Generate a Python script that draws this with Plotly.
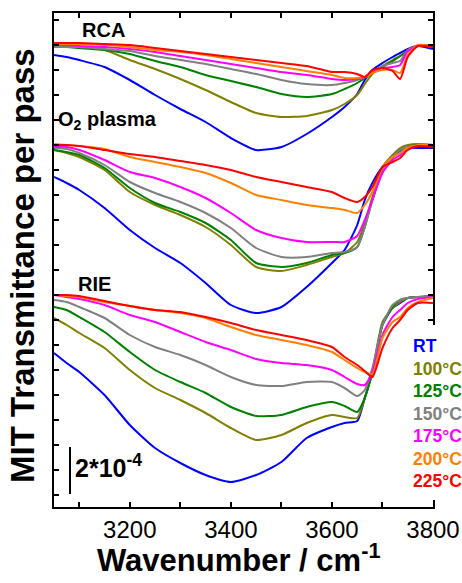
import plotly.graph_objects as go

# Wavenumber grid (cm^-1)
wavenumber = [3050, 3075, 3100, 3150, 3200, 3250, 3300, 3350, 3400, 3450, 3500, 3550,
              3600, 3625, 3650, 3665, 3680, 3700, 3720, 3735, 3750, 3770, 3800]

temps = ["RT", "100°C", "125°C", "150°C", "175°C", "200°C", "225°C"]
colors = ["#0000FF", "#808000", "#008000", "#808080", "#FF00FF", "#FF8000", "#FF0000"]

# Offset spectra, y in units of 1e-4 (transmittance per pass)
rca_rt   = [18.08,18.00,17.88,17.60,17.08,16.48,15.92,15.40,14.76,14.28,14.40,14.92,15.60,16.00,16.52,17.08,17.48,17.76,18.00,18.16,18.32,18.44,18.32]
rca_100  = [18.40,18.40,18.40,18.28,17.88,17.52,17.12,16.68,16.20,15.76,15.60,15.64,15.88,16.12,16.48,16.92,17.32,17.64,17.88,18.04,18.24,18.44,18.40]
rca_125  = [18.40,18.40,18.36,18.28,18.12,17.84,17.60,17.28,17.04,16.80,16.52,16.40,16.52,16.72,16.96,17.16,17.40,17.60,17.84,18.04,18.24,18.44,18.48]
rca_150  = [18.40,18.40,18.40,18.32,18.24,18.04,17.88,17.72,17.52,17.32,17.08,16.92,16.88,16.96,17.08,17.20,17.40,17.64,17.76,17.84,18.28,18.44,18.48]
rca_175  = [18.48,18.48,18.44,18.40,18.32,18.20,18.04,17.88,17.72,17.56,17.40,17.28,17.12,17.08,17.12,17.20,17.40,17.56,17.60,17.68,18.24,18.44,18.48]
rca_200  = [18.52,18.52,18.52,18.48,18.40,18.28,18.20,18.08,17.92,17.76,17.60,17.44,17.28,17.16,17.16,17.20,17.36,17.48,17.48,17.36,18.08,18.48,18.44]
rca_225  = [18.56,18.56,18.56,18.52,18.48,18.36,18.24,18.12,18.00,17.88,17.76,17.64,17.40,17.40,17.32,17.20,17.48,17.56,17.44,17.12,18.00,18.44,18.40]

o2_rt    = [13.20,12.96,12.68,11.96,11.08,10.36,9.76,8.96,8.08,7.76,8.00,8.80,9.76,10.28,11.28,12.28,12.96,13.60,14.00,14.24,14.36,14.36,14.36]
o2_100   = [14.28,14.16,14.00,13.48,12.60,12.08,11.68,11.20,10.48,9.60,9.44,9.68,10.00,10.16,10.60,11.36,12.40,13.60,14.08,14.36,14.48,14.52,14.48]
o2_125   = [14.28,14.20,14.08,13.56,12.76,12.16,11.80,11.36,10.68,9.76,9.60,9.76,10.08,10.16,10.40,11.20,12.28,13.48,14.00,14.28,14.40,14.48,14.48]
o2_150   = [14.36,14.32,14.16,13.68,13.00,12.56,12.20,11.76,11.16,10.36,10.00,10.00,10.16,10.20,10.40,11.20,12.28,13.48,14.00,14.28,14.40,14.44,14.44]
o2_175   = [14.40,14.40,14.28,13.88,13.40,13.16,12.80,12.36,11.76,11.08,10.76,10.60,10.60,10.60,10.84,11.48,12.28,13.36,13.88,14.08,14.36,14.44,14.48]
o2_200   = [14.52,14.48,14.44,14.32,14.00,13.80,13.60,13.36,12.96,12.48,12.28,12.08,11.96,11.88,11.76,12.08,12.60,13.60,14.00,14.16,14.36,14.48,14.48]
o2_225   = [14.48,14.48,14.44,14.28,14.12,14.00,13.84,13.68,13.48,13.20,13.00,12.80,12.60,12.36,12.20,12.40,12.80,13.60,13.80,13.96,14.28,14.44,14.40]

rie_rt   = [6.16,5.76,5.40,4.48,3.28,2.36,1.76,1.28,1.00,1.28,1.80,2.76,3.20,3.36,3.44,4.36,5.40,7.28,7.96,8.16,8.36,8.40,8.40]
rie_100  = [7.56,7.28,6.96,6.36,5.48,4.76,4.28,3.76,3.16,2.68,2.88,3.36,3.68,3.60,3.56,4.36,5.40,7.40,7.96,8.20,8.36,8.40,8.44]
rie_125  = [8.00,7.88,7.60,7.00,6.20,5.48,5.00,4.56,4.00,3.64,3.68,4.00,4.20,4.04,3.80,4.36,5.40,7.28,8.00,8.28,8.36,8.40,8.44]
rie_150  = [8.28,8.20,8.00,7.56,6.88,6.40,6.08,5.68,5.20,4.88,4.84,5.00,5.00,4.76,4.44,4.68,5.56,7.28,8.08,8.28,8.36,8.40,8.44]
rie_175  = [8.48,8.40,8.32,8.08,7.68,7.40,7.00,6.60,6.28,5.92,5.76,5.68,5.48,5.20,4.92,4.88,5.40,6.88,7.60,7.88,8.16,8.32,8.40]
rie_200  = [8.48,8.44,8.40,8.20,8.04,7.88,7.76,7.56,7.20,6.88,6.68,6.48,6.20,5.88,5.56,5.40,5.32,6.76,7.40,7.60,7.96,8.20,8.36]
rie_225  = [8.48,8.48,8.44,8.24,8.04,7.88,7.80,7.60,7.36,7.08,6.88,6.68,6.40,6.00,5.68,5.44,5.20,6.36,7.16,7.48,7.88,8.16,8.16]

groups = {
    "RCA": [rca_rt, rca_100, rca_125, rca_150, rca_175, rca_200, rca_225],
    "O2 plasma": [o2_rt, o2_100, o2_125, o2_150, o2_175, o2_200, o2_225],
    "RIE": [rie_rt, rie_100, rie_125, rie_150, rie_175, rie_200, rie_225],
}

FONT = "Liberation Sans, Arial, sans-serif"

fig = go.Figure()
for gname, series in groups.items():
    for t, c, ys in zip(temps, colors, series):
        fig.add_trace(go.Scatter(x=wavenumber, y=ys, mode="lines", name=f"{gname} {t}",
                                 line=dict(color=c, width=2, shape="spline", smoothing=0.6),
                                 showlegend=False, hoverinfo="skip"))

# plot area in pixels: x 54..433, y 13..507
L, R, T, B = 54, 433, 13, 507
def px(xp):
    return (xp - L) / (R - L)
def py(yp):
    return (B - yp) / (B - T)

ann = []
ann.append(dict(text="<b>RCA</b>", x=px(103.5), y=py(30), xanchor="center", yanchor="middle",
                font=dict(size=20, color="black", family=FONT)))
ann.append(dict(text="<b>O<sub>2</sub> plasma</b>", x=px(56), y=py(120), xanchor="left", yanchor="middle",
                font=dict(size=20, color="black", family=FONT)))
ann.append(dict(text="<b>RIE</b>", x=px(76), y=py(283.5), xanchor="left", yanchor="middle",
                font=dict(size=20, color="black", family=FONT)))
legend_y = [345.5, 368.5, 391, 413.5, 436, 458.5, 480.5]
for t, c, yy in zip(temps, colors, legend_y):
    ann.append(dict(text=f"<b>{t}</b>", x=px(411), y=py(yy), xanchor="left", yanchor="middle",
                    font=dict(size=17.5, color=c, family=FONT)))
ann.append(dict(text="<b>2*10<sup>-4</sup></b>", x=px(73), y=py(466), xanchor="left", yanchor="middle",
                font=dict(size=25, color="black", family=FONT)))
ann.append(dict(text="<b>Wavenumber / cm<sup>-1</sup></b>", x=px(238), y=py(558), xanchor="center",
                yanchor="middle", font=dict(size=31, color="black", family=FONT)))
ann.append(dict(text="<b>MIT Transmittance per pass</b>", x=px(22), y=py(266), xanchor="center",
                yanchor="middle", textangle=-90, font=dict(size=33, color="black", family=FONT)))
for a in ann:
    a.update(xref="paper", yref="paper", showarrow=False)

shapes = [
    # white legend box hiding the right frame
    dict(type="rect", xref="paper", yref="paper", x0=px(405), x1=px(452), y0=py(500), y1=py(325),
         fillcolor="white", line=dict(width=0), layer="above"),
    # scale bar
    dict(type="line", xref="paper", yref="paper", x0=px(70), x1=px(70), y0=py(494), y1=py(447),
         line=dict(color="black", width=2)),
]

fig.update_layout(
    width=462, height=583, autosize=False,
    margin=dict(l=L, r=462 - R, t=T, b=583 - B, pad=0, autoexpand=False),
    plot_bgcolor="white", paper_bgcolor="white",
    annotations=ann, shapes=shapes,
    font=dict(family=FONT, color="black"),
)
fig.update_xaxes(range=[3050, 3800], tick0=3000, dtick=200, automargin=False,
                 ticks="inside", ticklen=5, tickwidth=1.5, tickcolor="black",
                 minor=dict(ticks="inside", dtick=100, tick0=3000, ticklen=5, tickwidth=1.5,
                            tickcolor="black", showgrid=False),
                 showline=True, linewidth=2, linecolor="black", mirror="ticks",
                 showgrid=False, zeroline=False,
                 tickfont=dict(size=24, family=FONT, color="black"))
fig.update_yaxes(range=[0, 19.76], tick0=0.48, dtick=1, automargin=False,
                 ticks="inside", ticklen=5, tickwidth=1.5, tickcolor="black",
                 showline=True, linewidth=2, linecolor="black", mirror="ticks",
                 showgrid=False, zeroline=False, showticklabels=False)

fig.write_html("out.html", config={"displayModeBar": False}, post_script=(
    "document.body.style.margin='0';"
    "document.body.style.overflow='hidden';"
    "document.documentElement.style.overflow='hidden';"
))
